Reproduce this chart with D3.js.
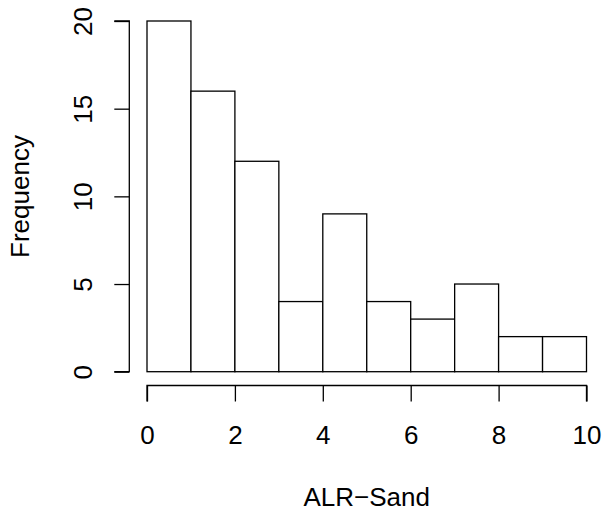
<!DOCTYPE html>
<html>
<head>
<meta charset="utf-8">
<script src="https://cdn.jsdelivr.net/npm/d3@7"></script>
<style>
  html, body { margin: 0; padding: 0; background: #fff; }
  svg { display: block; }
  text { font-family: "Liberation Sans", Arial, Helvetica, sans-serif; fill: #000; }
</style>
</head>
<body>
<svg id="chart" width="603" height="511"></svg>
<script>
// Histogram of ALR-Sand: bin edges and counts per bin
const binStarts = [0, 1, 2, 3, 4, 5, 6, 7, 8, 9];
const binWidth = 1;
const counts = [20, 16, 12, 4, 9, 4, 3, 5, 2, 2];
const xTicks = [0, 2, 4, 6, 8, 10];
const yTicks = [0, 5, 10, 15, 20];
const xLabel = "ALR\u2212Sand";
const yLabel = "Frequency";

const svg = d3.select("#chart");
const fontSize = 26;
const lw = 1.3;

const x = d3.scaleLinear().domain([0, 10]).range([147, 586.5]);
const y = d3.scaleLinear().domain([0, 20]).range([371.7, 21]);

// bars
svg.append("g").selectAll("rect")
  .data(binStarts.map((s, i) => ({ s, c: counts[i] })))
  .join("rect")
  .attr("x", d => x(d.s))
  .attr("y", d => y(d.c))
  .attr("width", d => x(d.s + binWidth) - x(d.s))
  .attr("height", d => y(0) - y(d.c))
  .attr("fill", "#fff")
  .attr("stroke", "#000")
  .attr("stroke-width", lw);

// x axis (drawn below the plot region, R style)
const xAxisY = 385.5;
const xAxis = d3.axisBottom(x).tickValues(xTicks).tickSize(16).tickPadding(0).tickFormat(d3.format("d"));
const gx = svg.append("g").attr("transform", `translate(0,${xAxisY})`).call(xAxis);
gx.select(".domain").attr("d", `M${x(0)},16V0H${x(10)}V16`).attr("stroke", "#000").attr("stroke-width", lw);
gx.selectAll(".tick line").attr("stroke", "#000").attr("stroke-width", lw);
gx.selectAll(".tick text")
  .attr("y", 444 - xAxisY).attr("dy", null)
  .attr("font-size", fontSize)
  .attr("font-family", "Liberation Sans, Arial, sans-serif");

// y axis
const yAxisX = 129.3;
const yAxis = d3.axisLeft(y).tickValues(yTicks).tickSize(15).tickPadding(0).tickFormat(d3.format("d"));
const gy = svg.append("g").attr("transform", `translate(${yAxisX},0)`).call(yAxis);
gy.select(".domain").attr("d", `M-15,${y(0)}H0V${y(20)}H-15`).attr("stroke", "#000").attr("stroke-width", lw);
gy.selectAll(".tick line").attr("stroke", "#000").attr("stroke-width", lw);
gy.selectAll(".tick text")
  .attr("x", null).attr("dy", null)
  .attr("transform", `translate(${92 - yAxisX},0) rotate(-90)`)
  .attr("text-anchor", "middle")
  .attr("font-size", fontSize)
  .attr("font-family", "Liberation Sans, Arial, sans-serif");

// axis titles
svg.append("text")
  .attr("x", 366.7).attr("y", 506)
  .attr("text-anchor", "middle")
  .attr("font-size", fontSize)
  .text(xLabel);

svg.append("text")
  .attr("transform", "translate(28.5,196.5) rotate(-90)")
  .attr("text-anchor", "middle")
  .attr("font-size", fontSize)
  .text(yLabel);
</script>
</body>
</html>
